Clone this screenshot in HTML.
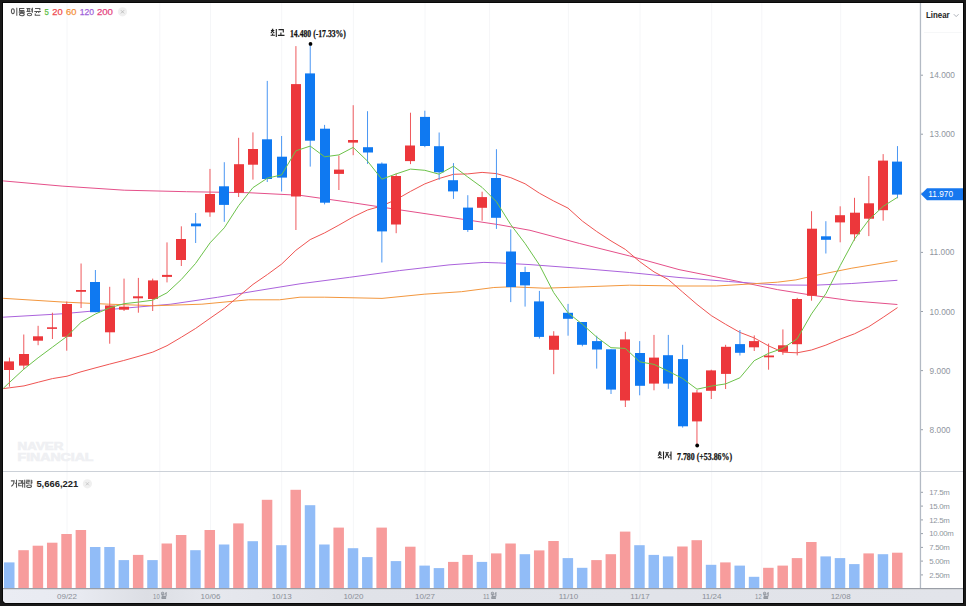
<!DOCTYPE html>
<html><head><meta charset="utf-8"><title>chart</title>
<style>
html,body{margin:0;padding:0;background:#191919;width:966px;height:606px;overflow:hidden;font-family:"Liberation Sans",sans-serif;}
svg{display:block;}
</style></head><body>
<svg width="966" height="606" viewBox="0 0 966 606">
<rect x="0" y="0" width="966" height="606" fill="#191919"/>
<path d="M2,2H964V604H7Q2,604 2,599Z" fill="#070707"/>
<path d="M3,3H963V603H7Q3,603 3,599Z" fill="#fff"/>
<line x1="67" y1="3" x2="67" y2="589" stroke="#f5f6f8" stroke-width="1"/>
<line x1="159.8" y1="3" x2="159.8" y2="589" stroke="#f5f6f8" stroke-width="1"/>
<line x1="210.5" y1="3" x2="210.5" y2="589" stroke="#f5f6f8" stroke-width="1"/>
<line x1="281.7" y1="3" x2="281.7" y2="589" stroke="#f5f6f8" stroke-width="1"/>
<line x1="353.4" y1="3" x2="353.4" y2="589" stroke="#f5f6f8" stroke-width="1"/>
<line x1="425" y1="3" x2="425" y2="589" stroke="#f5f6f8" stroke-width="1"/>
<line x1="489.6" y1="3" x2="489.6" y2="589" stroke="#f5f6f8" stroke-width="1"/>
<line x1="568.4" y1="3" x2="568.4" y2="589" stroke="#f5f6f8" stroke-width="1"/>
<line x1="640" y1="3" x2="640" y2="589" stroke="#f5f6f8" stroke-width="1"/>
<line x1="711.7" y1="3" x2="711.7" y2="589" stroke="#f5f6f8" stroke-width="1"/>
<line x1="761.8" y1="3" x2="761.8" y2="589" stroke="#f5f6f8" stroke-width="1"/>
<line x1="840.7" y1="3" x2="840.7" y2="589" stroke="#f5f6f8" stroke-width="1"/>
<polyline points="3.1,180.9 62.1,186.1 124.2,190.2 186.3,191.7 248.4,192.7 300.0,195.3 349.7,202.3 399.4,209.8 449.0,217.2 498.8,224.7 530.0,230.3 579.7,243.5 629.4,255.9 679.0,269.6 728.8,279.5 777.3,289.6 814.5,295.6 851.8,300.8 897.4,304.5" fill="none" stroke="#e5508a" stroke-width="1" stroke-linejoin="round"/>
<polyline points="3.1,317.2 62.1,313.8 124.2,308.2 170.8,304.2 217.4,297.3 264.0,289.6 300.0,283.8 349.7,277.3 399.4,270.6 449.0,264.9 483.9,262.4 498.8,262.9 530.0,264.6 579.7,268.3 629.4,272.5 679.0,277.5 728.8,281.5 777.3,285.0 814.5,285.2 851.8,283.5 897.4,280.3" fill="none" stroke="#ab63dc" stroke-width="1" stroke-linejoin="round"/>
<polyline points="3.1,298.3 62.1,302.0 108.7,304.2 155.3,305.7 201.9,304.2 248.4,299.8 279.5,299.8 300.0,297.2 324.8,297.2 382.0,298.4 424.2,294.2 461.5,291.7 493.8,287.5 511.2,286.8 544.9,288.2 579.7,287.0 629.4,285.2 679.0,286.0 716.3,286.0 740.0,284.6 777.3,282.2 795.9,279.9 814.5,275.6 851.8,268.2 897.4,260.7" fill="none" stroke="#f3973e" stroke-width="1" stroke-linejoin="round"/>
<polyline points="3.3,388.6 9.5,387.8 24.0,385.9 38.3,382.2 52.4,378.6 67.0,376.2 81.0,371.8 95.0,368.0 109.3,364.2 123.7,360.5 138.0,356.5 152.8,352.1 167.0,345.7 181.4,337.2 195.7,328.4 210.0,318.3 224.4,308.3 238.7,296.3 253.0,284.4 267.4,274.5 281.6,264.1 295.9,250.3 310.2,239.6 324.6,232.9 338.9,225.1 353.2,216.9 367.5,210.0 381.8,205.9 396.2,199.5 410.5,191.4 424.8,183.9 439.1,178.5 453.5,174.3 467.8,173.9 482.1,172.4 496.4,173.6 510.8,177.7 525.1,183.8 539.4,193.2 553.7,201.0 568.0,208.1 582.4,221.1 596.7,231.5 611.0,240.9 625.3,249.4 639.7,261.6 654.0,271.9 668.3,279.5 682.6,292.0 697.0,304.4 711.3,315.6 725.6,324.3 739.9,332.4 754.2,337.9 768.6,345.9 782.9,352.2 797.2,352.8 811.5,350.0 825.9,345.1 840.2,339.1 854.5,333.8 868.8,326.7 883.2,317.3 897.5,307.6" fill="none" stroke="#ef5452" stroke-width="1" stroke-linejoin="round"/>
<rect x="8.95" y="357.6" width="1" height="29.1" fill="#ef5a5e"/>
<rect x="4" y="361.4" width="10" height="8.6" fill="#ec373b"/>
<rect x="23.27" y="334.5" width="1" height="34.8" fill="#ef5a5e"/>
<rect x="19" y="354.0" width="10" height="11.6" fill="#ec373b"/>
<rect x="37.60" y="325.8" width="1" height="19.4" fill="#ef5a5e"/>
<rect x="33" y="336.3" width="10" height="4.4" fill="#ec373b"/>
<rect x="51.92" y="312.7" width="1" height="26.3" fill="#ef5a5e"/>
<rect x="47" y="327.3" width="10" height="1.6" fill="#ec373b"/>
<rect x="66.24" y="301.5" width="1" height="49.2" fill="#ef5a5e"/>
<rect x="62" y="304.0" width="10" height="32.8" fill="#ec373b"/>
<rect x="80.57" y="263.5" width="1" height="44.5" fill="#ef5a5e"/>
<rect x="76" y="290.0" width="10" height="1.8" fill="#ec373b"/>
<rect x="94.89" y="270.0" width="1" height="42.2" fill="#4b97f3"/>
<rect x="90" y="282.0" width="10" height="30.2" fill="#0f79f1"/>
<rect x="109.21" y="286.8" width="1" height="56.9" fill="#ef5a5e"/>
<rect x="105" y="305.5" width="10" height="26.8" fill="#ec373b"/>
<rect x="123.53" y="278.6" width="1" height="32.4" fill="#ef5a5e"/>
<rect x="119" y="306.7" width="10" height="3.0" fill="#ec373b"/>
<rect x="137.86" y="277.9" width="1" height="34.8" fill="#ef5a5e"/>
<rect x="133" y="296.3" width="10" height="2.0" fill="#ec373b"/>
<rect x="152.18" y="278.6" width="1" height="32.4" fill="#ef5a5e"/>
<rect x="148" y="280.4" width="10" height="18.6" fill="#ec373b"/>
<rect x="166.50" y="242.4" width="1" height="40.0" fill="#ef5a5e"/>
<rect x="162" y="274.9" width="10" height="2.0" fill="#ec373b"/>
<rect x="180.83" y="226.3" width="1" height="39.7" fill="#ef5a5e"/>
<rect x="176" y="239.0" width="10" height="21.0" fill="#ec373b"/>
<rect x="195.15" y="213.0" width="1" height="30.0" fill="#4b97f3"/>
<rect x="191" y="223.5" width="10" height="2.8" fill="#0f79f1"/>
<rect x="209.47" y="168.9" width="1" height="47.9" fill="#ef5a5e"/>
<rect x="205" y="194.0" width="10" height="18.4" fill="#ec373b"/>
<rect x="223.79" y="162.2" width="1" height="59.6" fill="#4b97f3"/>
<rect x="219" y="186.3" width="10" height="18.6" fill="#0f79f1"/>
<rect x="238.12" y="137.8" width="1" height="59.2" fill="#ef5a5e"/>
<rect x="234" y="164.2" width="10" height="28.5" fill="#ec373b"/>
<rect x="252.44" y="132.4" width="1" height="47.2" fill="#ef5a5e"/>
<rect x="248" y="149.0" width="10" height="15.7" fill="#ec373b"/>
<rect x="266.76" y="80.9" width="1" height="101.1" fill="#4b97f3"/>
<rect x="262" y="139.3" width="10" height="39.7" fill="#0f79f1"/>
<rect x="281.09" y="136.0" width="1" height="55.5" fill="#4b97f3"/>
<rect x="277" y="156.7" width="10" height="20.9" fill="#0f79f1"/>
<rect x="295.41" y="46.1" width="1" height="183.9" fill="#ef5a5e"/>
<rect x="291" y="84.1" width="10" height="112.4" fill="#ec373b"/>
<rect x="309.73" y="44.8" width="1" height="121.8" fill="#4b97f3"/>
<rect x="305" y="73.4" width="10" height="67.3" fill="#0f79f1"/>
<rect x="324.06" y="124.9" width="1" height="79.5" fill="#4b97f3"/>
<rect x="320" y="128.7" width="10" height="74.0" fill="#0f79f1"/>
<rect x="338.38" y="155.5" width="1" height="34.5" fill="#ef5a5e"/>
<rect x="334" y="169.6" width="10" height="4.3" fill="#ec373b"/>
<rect x="352.70" y="105.2" width="1" height="50.0" fill="#ef5a5e"/>
<rect x="348" y="140.0" width="10" height="2.6" fill="#ec373b"/>
<rect x="367.02" y="111.2" width="1" height="52.7" fill="#4b97f3"/>
<rect x="363" y="147.2" width="10" height="5.3" fill="#0f79f1"/>
<rect x="381.35" y="162.4" width="1" height="100.1" fill="#4b97f3"/>
<rect x="377" y="163.6" width="10" height="67.8" fill="#0f79f1"/>
<rect x="395.67" y="173.5" width="1" height="59.7" fill="#ef5a5e"/>
<rect x="391" y="176.0" width="10" height="48.5" fill="#ec373b"/>
<rect x="409.99" y="112.7" width="1" height="51.4" fill="#ef5a5e"/>
<rect x="405" y="145.5" width="10" height="15.6" fill="#ec373b"/>
<rect x="424.32" y="110.7" width="1" height="36.5" fill="#4b97f3"/>
<rect x="420" y="116.9" width="10" height="29.1" fill="#0f79f1"/>
<rect x="438.64" y="132.5" width="1" height="47.3" fill="#4b97f3"/>
<rect x="434" y="146.2" width="10" height="26.1" fill="#0f79f1"/>
<rect x="452.96" y="163.1" width="1" height="35.8" fill="#4b97f3"/>
<rect x="448" y="180.2" width="10" height="11.2" fill="#0f79f1"/>
<rect x="467.29" y="195.2" width="1" height="36.7" fill="#4b97f3"/>
<rect x="463" y="207.6" width="10" height="22.4" fill="#0f79f1"/>
<rect x="481.61" y="191.7" width="1" height="29.0" fill="#ef5a5e"/>
<rect x="477" y="197.1" width="10" height="10.7" fill="#ec373b"/>
<rect x="495.93" y="149.2" width="1" height="79.7" fill="#4b97f3"/>
<rect x="491" y="178.0" width="10" height="39.8" fill="#0f79f1"/>
<rect x="510.25" y="229.4" width="1" height="72.7" fill="#4b97f3"/>
<rect x="506" y="251.5" width="10" height="35.6" fill="#0f79f1"/>
<rect x="524.58" y="266.7" width="1" height="39.9" fill="#4b97f3"/>
<rect x="520" y="272.0" width="10" height="13.4" fill="#0f79f1"/>
<rect x="538.90" y="290.9" width="1" height="47.7" fill="#4b97f3"/>
<rect x="534" y="301.4" width="10" height="35.5" fill="#0f79f1"/>
<rect x="553.22" y="331.2" width="1" height="43.0" fill="#ef5a5e"/>
<rect x="549" y="335.7" width="10" height="14.1" fill="#ec373b"/>
<rect x="567.55" y="303.9" width="1" height="31.8" fill="#4b97f3"/>
<rect x="563" y="312.8" width="10" height="6.0" fill="#0f79f1"/>
<rect x="581.87" y="322.0" width="1" height="24.3" fill="#4b97f3"/>
<rect x="577" y="322.0" width="10" height="22.8" fill="#0f79f1"/>
<rect x="596.19" y="335.7" width="1" height="32.9" fill="#4b97f3"/>
<rect x="592" y="341.1" width="10" height="8.4" fill="#0f79f1"/>
<rect x="610.52" y="349.3" width="1" height="44.7" fill="#4b97f3"/>
<rect x="606" y="349.3" width="10" height="40.3" fill="#0f79f1"/>
<rect x="624.84" y="331.8" width="1" height="75.2" fill="#ef5a5e"/>
<rect x="620" y="339.4" width="10" height="61.1" fill="#ec373b"/>
<rect x="639.16" y="341.1" width="1" height="54.2" fill="#4b97f3"/>
<rect x="635" y="353.0" width="10" height="32.8" fill="#0f79f1"/>
<rect x="653.49" y="334.9" width="1" height="55.4" fill="#ef5a5e"/>
<rect x="649" y="357.6" width="10" height="26.0" fill="#ec373b"/>
<rect x="667.81" y="334.9" width="1" height="53.9" fill="#4b97f3"/>
<rect x="663" y="355.2" width="10" height="28.4" fill="#0f79f1"/>
<rect x="682.13" y="344.8" width="1" height="82.8" fill="#4b97f3"/>
<rect x="678" y="359.1" width="10" height="67.2" fill="#0f79f1"/>
<rect x="696.45" y="390.0" width="1" height="55.0" fill="#ef5a5e"/>
<rect x="692" y="392.5" width="10" height="28.9" fill="#ec373b"/>
<rect x="710.78" y="369.7" width="1" height="29.3" fill="#ef5a5e"/>
<rect x="706" y="370.4" width="10" height="20.4" fill="#ec373b"/>
<rect x="725.10" y="344.8" width="1" height="44.2" fill="#ef5a5e"/>
<rect x="721" y="346.8" width="10" height="27.1" fill="#ec373b"/>
<rect x="739.42" y="330.0" width="1" height="25.5" fill="#4b97f3"/>
<rect x="735" y="344.1" width="10" height="8.7" fill="#0f79f1"/>
<rect x="753.75" y="335.4" width="1" height="15.6" fill="#ef5a5e"/>
<rect x="749" y="341.1" width="10" height="6.2" fill="#ec373b"/>
<rect x="768.07" y="343.6" width="1" height="26.1" fill="#ef5a5e"/>
<rect x="764" y="355.5" width="10" height="1.8" fill="#ec373b"/>
<rect x="782.39" y="329.4" width="1" height="25.4" fill="#ef5a5e"/>
<rect x="778" y="345.3" width="10" height="6.5" fill="#ec373b"/>
<rect x="796.72" y="297.8" width="1" height="57.6" fill="#ef5a5e"/>
<rect x="792" y="299.0" width="10" height="45.2" fill="#ec373b"/>
<rect x="811.04" y="211.2" width="1" height="89.5" fill="#ef5a5e"/>
<rect x="807" y="228.7" width="10" height="67.1" fill="#ec373b"/>
<rect x="825.36" y="221.2" width="1" height="32.3" fill="#4b97f3"/>
<rect x="821" y="236.3" width="10" height="3.5" fill="#0f79f1"/>
<rect x="839.68" y="206.3" width="1" height="36.0" fill="#ef5a5e"/>
<rect x="835" y="215.2" width="10" height="7.2" fill="#ec373b"/>
<rect x="854.01" y="197.8" width="1" height="42.8" fill="#ef5a5e"/>
<rect x="850" y="212.7" width="10" height="21.6" fill="#ec373b"/>
<rect x="868.33" y="176.0" width="1" height="60.1" fill="#ef5a5e"/>
<rect x="864" y="203.3" width="10" height="15.4" fill="#ec373b"/>
<rect x="882.65" y="154.1" width="1" height="66.6" fill="#ef5a5e"/>
<rect x="878" y="160.6" width="10" height="49.6" fill="#ec373b"/>
<rect x="896.98" y="146.1" width="1" height="52.2" fill="#4b97f3"/>
<rect x="892" y="161.6" width="10" height="33.0" fill="#0f79f1"/>
<polyline points="3.3,388.3 9.4,382.5 23.8,369.2 38.1,357.8 52.4,347.2 66.7,336.6 81.1,322.3 95.4,314.0 109.7,307.8 124.0,303.7 138.4,302.1 152.7,300.2 167.0,292.8 181.3,279.5 195.6,263.4 210.0,242.9 224.3,227.8 238.6,205.7 252.9,187.7 267.3,178.2 281.6,174.9 295.9,150.8 310.2,146.1 324.6,156.8 338.9,154.9 353.2,147.4 367.5,161.1 381.8,179.2 396.2,173.9 410.5,169.1 424.8,170.3 439.1,174.2 453.5,166.2 467.8,177.0 482.1,187.4 496.4,201.7 510.8,224.7 525.1,243.5 539.4,264.9 553.7,292.6 568.0,312.8 582.4,324.3 596.7,337.1 611.0,347.7 625.3,348.4 639.7,361.8 654.0,364.4 668.3,371.2 682.6,378.5 697.0,389.2 711.3,386.1 725.6,383.9 739.9,377.8 754.2,360.7 768.6,353.3 782.9,348.3 797.2,338.7 811.5,313.9 825.9,293.7 840.2,265.6 854.5,239.1 868.8,219.9 883.2,206.3 897.5,197.3" fill="none" stroke="#6cc24a" stroke-width="1" stroke-linejoin="round"/>
<rect x="4.00" y="562.4" width="10.5" height="26.1" fill="#91bcf7"/>
<rect x="18.32" y="550.2" width="10.5" height="38.3" fill="#f79c9c"/>
<rect x="32.65" y="545.7" width="10.5" height="42.8" fill="#f79c9c"/>
<rect x="46.97" y="542.7" width="10.5" height="45.8" fill="#f79c9c"/>
<rect x="61.29" y="534.0" width="10.5" height="54.5" fill="#f79c9c"/>
<rect x="75.62" y="530.0" width="10.5" height="58.5" fill="#f79c9c"/>
<rect x="89.94" y="547.0" width="10.5" height="41.5" fill="#91bcf7"/>
<rect x="104.26" y="547.0" width="10.5" height="41.5" fill="#91bcf7"/>
<rect x="118.58" y="560.1" width="10.5" height="28.4" fill="#91bcf7"/>
<rect x="132.91" y="554.9" width="10.5" height="33.6" fill="#f79c9c"/>
<rect x="147.23" y="560.1" width="10.5" height="28.4" fill="#91bcf7"/>
<rect x="161.55" y="543.5" width="10.5" height="45.0" fill="#f79c9c"/>
<rect x="175.88" y="535.0" width="10.5" height="53.5" fill="#f79c9c"/>
<rect x="190.20" y="550.2" width="10.5" height="38.3" fill="#91bcf7"/>
<rect x="204.52" y="530.0" width="10.5" height="58.5" fill="#f79c9c"/>
<rect x="218.84" y="544.5" width="10.5" height="44.0" fill="#91bcf7"/>
<rect x="233.17" y="523.4" width="10.5" height="65.1" fill="#f79c9c"/>
<rect x="247.49" y="541.2" width="10.5" height="47.3" fill="#91bcf7"/>
<rect x="261.81" y="499.8" width="10.5" height="88.7" fill="#f79c9c"/>
<rect x="276.14" y="545.2" width="10.5" height="43.3" fill="#91bcf7"/>
<rect x="290.46" y="489.8" width="10.5" height="98.7" fill="#f79c9c"/>
<rect x="304.78" y="505.2" width="10.5" height="83.3" fill="#91bcf7"/>
<rect x="319.11" y="544.5" width="10.5" height="44.0" fill="#91bcf7"/>
<rect x="333.43" y="527.6" width="10.5" height="60.9" fill="#f79c9c"/>
<rect x="347.75" y="548.2" width="10.5" height="40.3" fill="#91bcf7"/>
<rect x="362.07" y="557.1" width="10.5" height="31.4" fill="#91bcf7"/>
<rect x="376.40" y="527.6" width="10.5" height="60.9" fill="#f79c9c"/>
<rect x="390.72" y="561.1" width="10.5" height="27.4" fill="#91bcf7"/>
<rect x="405.04" y="546.7" width="10.5" height="41.8" fill="#f79c9c"/>
<rect x="419.37" y="565.6" width="10.5" height="22.9" fill="#91bcf7"/>
<rect x="433.69" y="568.1" width="10.5" height="20.4" fill="#91bcf7"/>
<rect x="448.01" y="561.9" width="10.5" height="26.6" fill="#f79c9c"/>
<rect x="462.34" y="554.9" width="10.5" height="33.6" fill="#f79c9c"/>
<rect x="476.66" y="561.9" width="10.5" height="26.6" fill="#91bcf7"/>
<rect x="490.98" y="553.4" width="10.5" height="35.1" fill="#f79c9c"/>
<rect x="505.31" y="543.5" width="10.5" height="45.0" fill="#f79c9c"/>
<rect x="519.63" y="554.2" width="10.5" height="34.3" fill="#91bcf7"/>
<rect x="533.95" y="550.4" width="10.5" height="38.1" fill="#f79c9c"/>
<rect x="548.27" y="541.0" width="10.5" height="47.5" fill="#f79c9c"/>
<rect x="562.60" y="558.1" width="10.5" height="30.4" fill="#91bcf7"/>
<rect x="576.92" y="567.8" width="10.5" height="20.7" fill="#91bcf7"/>
<rect x="591.24" y="560.1" width="10.5" height="28.4" fill="#f79c9c"/>
<rect x="605.57" y="554.2" width="10.5" height="34.3" fill="#f79c9c"/>
<rect x="619.89" y="531.6" width="10.5" height="56.9" fill="#f79c9c"/>
<rect x="634.21" y="545.2" width="10.5" height="43.3" fill="#91bcf7"/>
<rect x="648.53" y="554.9" width="10.5" height="33.6" fill="#91bcf7"/>
<rect x="662.86" y="556.4" width="10.5" height="32.1" fill="#91bcf7"/>
<rect x="677.18" y="546.5" width="10.5" height="42.0" fill="#f79c9c"/>
<rect x="691.50" y="540.2" width="10.5" height="48.3" fill="#f79c9c"/>
<rect x="705.83" y="564.8" width="10.5" height="23.7" fill="#91bcf7"/>
<rect x="720.15" y="562.4" width="10.5" height="26.1" fill="#f79c9c"/>
<rect x="734.47" y="565.6" width="10.5" height="22.9" fill="#91bcf7"/>
<rect x="748.80" y="576.8" width="10.5" height="11.7" fill="#91bcf7"/>
<rect x="763.12" y="567.8" width="10.5" height="20.7" fill="#f79c9c"/>
<rect x="777.44" y="565.6" width="10.5" height="22.9" fill="#f79c9c"/>
<rect x="791.76" y="558.1" width="10.5" height="30.4" fill="#f79c9c"/>
<rect x="806.09" y="542.0" width="10.5" height="46.5" fill="#f79c9c"/>
<rect x="820.41" y="556.4" width="10.5" height="32.1" fill="#91bcf7"/>
<rect x="834.73" y="558.1" width="10.5" height="30.4" fill="#91bcf7"/>
<rect x="849.06" y="564.1" width="10.5" height="24.4" fill="#91bcf7"/>
<rect x="863.38" y="553.4" width="10.5" height="35.1" fill="#f79c9c"/>
<rect x="877.70" y="554.2" width="10.5" height="34.3" fill="#91bcf7"/>
<rect x="892.03" y="552.7" width="10.5" height="35.8" fill="#f79c9c"/>
<circle cx="310.5" cy="43.9" r="1.9" fill="#000"/>
<g fill="none" stroke="#222" stroke-width="1.10" stroke-linecap="butt"><path transform="translate(270.60,29.00) scale(1.0)" d="M1.3,0.4H2.7 M0.3,1.5H3.7 M2,1.6L0.3,4.2 M2,2.3L3.7,4.2 M2,4.4V5.9 M0,6.3H4.3 M5.7,0V8"/><path transform="translate(277.90,29.00) scale(1.0)" d="M0.6,0.6H5.4V3.6 M3,3.6V6.2 M0,6.4H6.6"/></g>
<text x="290" y="36.8" font-family='"Liberation Serif", serif' font-weight="bold" font-size="10" textLength="55.9" lengthAdjust="spacingAndGlyphs" fill="#111" stroke="#111" stroke-width="0.25">14.480 (-17.33%)</text>
<circle cx="697.2" cy="445.5" r="1.9" fill="#000"/>
<g fill="none" stroke="#222" stroke-width="1.10" stroke-linecap="butt"><path transform="translate(657.80,451.50) scale(1.0)" d="M1.3,0.4H2.7 M0.3,1.5H3.7 M2,1.6L0.3,4.2 M2,2.3L3.7,4.2 M2,4.4V5.9 M0,6.3H4.3 M5.7,0V8"/><path transform="translate(665.10,451.50) scale(1.0)" d="M0.3,1.2H3.8 M2.1,1.3L0.2,6.4 M2.1,2.6L4,6.4 M5.9,0V8.3 M4.3,3.6H5.9"/></g>
<text x="677" y="459.5" font-family='"Liberation Serif", serif' font-weight="bold" font-size="10" textLength="55" lengthAdjust="spacingAndGlyphs" fill="#111" stroke="#111" stroke-width="0.25">7.780 (+53.86%)</text>
<g fill="none" stroke="#555" stroke-width="1.05" stroke-linecap="butt"><path transform="translate(11.00,7.80) scale(1.0)" d="M3.3,3.4a1.45,2.4 0 1,1 -2.9,0a1.45,2.4 0 1,1 2.9,0Z M5.8,0V8"/><path transform="translate(18.75,7.80) scale(1.0)" d="M5.6,0.6H0.8V2.8H5.6 M3.1,2.8V4.1 M0,4.3H6.2 M5.5,6.6a2.4,1.3 0 1,1 -4.8,0a2.4,1.3 0 1,1 4.8,0Z"/><path transform="translate(26.50,7.80) scale(1.0)" d="M0,0.6H3.8 M1.1,0.6V3.6 M2.7,0.6V3.6 M0,3.7H3.9 M5.9,0V5 M4.3,1.4H5.9 M4.3,3.1H5.9 M5.2,6.7a2.2,1.2 0 1,1 -4.4,0a2.2,1.2 0 1,1 4.4,0Z"/><path transform="translate(34.25,7.80) scale(1.0)" d="M0.8,0.6H5.6V2.4 M0,3.6H6.6 M2.2,3.6V5.2 M4.5,3.6V5.2 M1.0,5.8V7.5H6.0"/></g>
<text x="44.4" y="15.1" font-family='"Liberation Sans", sans-serif' font-size="9.4" textLength="4.3" lengthAdjust="spacingAndGlyphs" stroke="#5cbf45" stroke-width="0.25" fill="#5cbf45">5</text>
<text x="52.2" y="15.1" font-family='"Liberation Sans", sans-serif' font-size="9.4" textLength="10.4" lengthAdjust="spacingAndGlyphs" stroke="#ef4a4f" stroke-width="0.25" fill="#ef4a4f">20</text>
<text x="66.0" y="15.1" font-family='"Liberation Sans", sans-serif' font-size="9.4" textLength="10.4" lengthAdjust="spacingAndGlyphs" stroke="#f3913a" stroke-width="0.25" fill="#f3913a">60</text>
<text x="79.7" y="15.1" font-family='"Liberation Sans", sans-serif' font-size="9.4" textLength="14.3" lengthAdjust="spacingAndGlyphs" stroke="#a061d9" stroke-width="0.25" fill="#a061d9">120</text>
<text x="96.9" y="15.1" font-family='"Liberation Sans", sans-serif' font-size="9.4" textLength="16.1" lengthAdjust="spacingAndGlyphs" stroke="#e5457f" stroke-width="0.25" fill="#e5457f">200</text>
<circle cx="122.5" cy="11.8" r="4.6" fill="#f0f0f0"/><path d="M120.9,10.2L124.1,13.4M124.1,10.2L120.9,13.4" stroke="#b5b5b5" stroke-width="0.8"/>
<text x="926" y="17.7" font-family='"Liberation Sans", sans-serif' font-weight="bold" font-size="9" textLength="23.7" lengthAdjust="spacingAndGlyphs" fill="#222">Linear</text>
<path d="M953.8,14.2L956.2,16.6L958.6,14.2" fill="none" stroke="#9aa0a8" stroke-width="0.8"/>
<line x1="924" y1="32.5" x2="962" y2="32.5" stroke="#f6f7f8" stroke-width="1"/>
<rect x="919.8" y="3" width="1.3" height="586" fill="#b3bac4"/>
<rect x="921" y="74.7" width="2" height="1" fill="#9aa1ab"/>
<text x="929.6" y="78.2" font-family='"Liberation Sans", sans-serif' font-size="8.3" fill="#8f959e">14.000</text>
<rect x="921" y="133.7" width="2" height="1" fill="#9aa1ab"/>
<text x="929.6" y="137.2" font-family='"Liberation Sans", sans-serif' font-size="8.3" fill="#8f959e">13.000</text>
<rect x="921" y="251.9" width="2" height="1" fill="#9aa1ab"/>
<text x="929.6" y="255.4" font-family='"Liberation Sans", sans-serif' font-size="8.3" fill="#8f959e">11.000</text>
<rect x="921" y="311.0" width="2" height="1" fill="#9aa1ab"/>
<text x="929.6" y="314.5" font-family='"Liberation Sans", sans-serif' font-size="8.3" fill="#8f959e">10.000</text>
<rect x="921" y="370.1" width="2" height="1" fill="#9aa1ab"/>
<text x="929.6" y="373.6" font-family='"Liberation Sans", sans-serif' font-size="8.3" fill="#8f959e">9.000</text>
<rect x="921" y="429.2" width="2" height="1" fill="#9aa1ab"/>
<text x="929.6" y="432.7" font-family='"Liberation Sans", sans-serif' font-size="8.3" fill="#8f959e">8.000</text>
<rect x="921" y="192.7" width="2" height="1" fill="#9aa1ab"/>
<path d="M921,194.3L927,188.3H963V200.3H927Z" fill="#1677ef"/>
<text x="928.3" y="197.3" font-family='"Liberation Sans", sans-serif' font-size="8.3" fill="#fff">11.970</text>
<text x="17.6" y="449.8" font-family='"Liberation Sans", sans-serif' font-weight="bold" font-size="11.6" textLength="45.8" lengthAdjust="spacingAndGlyphs" fill="#eff0f3" stroke="#eff0f3" stroke-width="0.7">NAVER</text>
<text x="17.6" y="460.6" font-family='"Liberation Sans", sans-serif' font-weight="bold" font-size="11.6" textLength="75.8" lengthAdjust="spacingAndGlyphs" fill="#eff0f3" stroke="#eff0f3" stroke-width="0.7">FINANCIAL</text>
<rect x="3" y="471" width="960" height="1" fill="#ccd1d8"/>
<g fill="none" stroke="#555" stroke-width="1.05" stroke-linecap="butt"><path transform="translate(10.70,479.80) scale(1.0)" d="M0.2,1.1H3.4Q3.4,4.6 0.6,6.6 M5.8,0V8 M4.2,3.5H5.8"/><path transform="translate(18.30,479.80) scale(1.0)" d="M0.2,1H3.1V3.4H0.4V5.9H3.4 M4.3,0.3V7.6 M4.3,3.5H6.2 M6.4,0V8"/><path transform="translate(25.90,479.80) scale(1.0)" d="M0.2,0.5H3.3V1.9H0.5V3.4H3.6 M5.3,0V4.7 M5.3,1.3H6.7 M5.3,2.9H6.7 M5.6,6.5a2.4,1.25 0 1,1 -4.8,0a2.4,1.25 0 1,1 4.8,0Z"/></g>
<text x="36.4" y="487.2" font-family='"Liberation Sans", sans-serif' font-weight="bold" font-size="8.8" textLength="41.8" lengthAdjust="spacingAndGlyphs" fill="#222">5,666,221</text>
<circle cx="87.4" cy="483.8" r="4.6" fill="#f0f0f0"/><path d="M85.9,482.3L88.9,485.3M88.9,482.3L85.9,485.3" stroke="#c0c0c0" stroke-width="0.8"/>
<rect x="921" y="491.8" width="2" height="1" fill="#9aa1ab"/>
<text x="929.3" y="495.1" font-family='"Liberation Sans", sans-serif' font-size="7.8" letter-spacing="-0.3" fill="#8f959e">17.5m</text>
<rect x="921" y="505.6" width="2" height="1" fill="#9aa1ab"/>
<text x="929.3" y="508.9" font-family='"Liberation Sans", sans-serif' font-size="7.8" letter-spacing="-0.3" fill="#8f959e">15.0m</text>
<rect x="921" y="519.4" width="2" height="1" fill="#9aa1ab"/>
<text x="929.3" y="522.7" font-family='"Liberation Sans", sans-serif' font-size="7.8" letter-spacing="-0.3" fill="#8f959e">12.5m</text>
<rect x="921" y="533.1" width="2" height="1" fill="#9aa1ab"/>
<text x="929.3" y="536.4" font-family='"Liberation Sans", sans-serif' font-size="7.8" letter-spacing="-0.3" fill="#8f959e">10.00m</text>
<rect x="921" y="546.9" width="2" height="1" fill="#9aa1ab"/>
<text x="929.3" y="550.2" font-family='"Liberation Sans", sans-serif' font-size="7.8" letter-spacing="-0.3" fill="#8f959e">7.50m</text>
<rect x="921" y="560.6" width="2" height="1" fill="#9aa1ab"/>
<text x="929.3" y="563.9" font-family='"Liberation Sans", sans-serif' font-size="7.8" letter-spacing="-0.3" fill="#8f959e">5.00m</text>
<rect x="921" y="574.4" width="2" height="1" fill="#9aa1ab"/>
<text x="929.3" y="577.7" font-family='"Liberation Sans", sans-serif' font-size="7.8" letter-spacing="-0.3" fill="#8f959e">2.50m</text>
<defs><linearGradient id="bg" x1="0" y1="0" x2="1" y2="0"><stop offset="0" stop-color="#eaecf3"/><stop offset="0.08" stop-color="#e8eaf1"/><stop offset="0.15" stop-color="#dcdee4"/><stop offset="0.22" stop-color="#e6e8ee"/><stop offset="0.35" stop-color="#e0e2e8"/><stop offset="1" stop-color="#e2e4ea"/></linearGradient></defs>
<path d="M3,589.5H963V603H7.5Q3,603 3,598.5Z" fill="url(#bg)"/>
<rect x="3" y="588" width="960" height="1.3" fill="#9a9ea6"/>
<text x="67.0" y="598.8" text-anchor="middle" font-family='"Liberation Sans", sans-serif' font-size="8" fill="#8a8f98">09/22</text>
<text x="210.5" y="598.8" text-anchor="middle" font-family='"Liberation Sans", sans-serif' font-size="8" fill="#8a8f98">10/06</text>
<text x="281.7" y="598.8" text-anchor="middle" font-family='"Liberation Sans", sans-serif' font-size="8" fill="#8a8f98">10/13</text>
<text x="353.4" y="598.8" text-anchor="middle" font-family='"Liberation Sans", sans-serif' font-size="8" fill="#8a8f98">10/20</text>
<text x="425.0" y="598.8" text-anchor="middle" font-family='"Liberation Sans", sans-serif' font-size="8" fill="#8a8f98">10/27</text>
<text x="568.4" y="598.8" text-anchor="middle" font-family='"Liberation Sans", sans-serif' font-size="8" fill="#8a8f98">11/10</text>
<text x="640.0" y="598.8" text-anchor="middle" font-family='"Liberation Sans", sans-serif' font-size="8" fill="#8a8f98">11/17</text>
<text x="711.7" y="598.8" text-anchor="middle" font-family='"Liberation Sans", sans-serif' font-size="8" fill="#8a8f98">11/24</text>
<text x="840.7" y="598.8" text-anchor="middle" font-family='"Liberation Sans", sans-serif' font-size="8" fill="#8a8f98">12/08</text>
<text x="153.1" y="598.7" font-family='"Liberation Sans", sans-serif' font-size="8" textLength="6.6" lengthAdjust="spacingAndGlyphs" fill="#8a8f98">10</text>
<g fill="none" stroke="#8a8f98" stroke-width="1.12" stroke-linecap="butt"><path transform="translate(161.10,592.00) scale(0.85)" d="M3.3,1.3a1.5,1.0 0 1,1 -3,0a1.5,1.0 0 1,1 3,0Z M0,3.2H4 M2,3.2V4.5 M5.9,0V4.9 M4.4,2.1H5.9 M0.8,5.2H5.6V6.3H0.8V7.6H5.9"/></g>
<text x="482.9" y="598.7" font-family='"Liberation Sans", sans-serif' font-size="8" textLength="6.6" lengthAdjust="spacingAndGlyphs" fill="#8a8f98">11</text>
<g fill="none" stroke="#8a8f98" stroke-width="1.12" stroke-linecap="butt"><path transform="translate(490.90,592.00) scale(0.85)" d="M3.3,1.3a1.5,1.0 0 1,1 -3,0a1.5,1.0 0 1,1 3,0Z M0,3.2H4 M2,3.2V4.5 M5.9,0V4.9 M4.4,2.1H5.9 M0.8,5.2H5.6V6.3H0.8V7.6H5.9"/></g>
<text x="755.1" y="598.7" font-family='"Liberation Sans", sans-serif' font-size="8" textLength="6.6" lengthAdjust="spacingAndGlyphs" fill="#8a8f98">12</text>
<g fill="none" stroke="#8a8f98" stroke-width="1.12" stroke-linecap="butt"><path transform="translate(763.10,592.00) scale(0.85)" d="M3.3,1.3a1.5,1.0 0 1,1 -3,0a1.5,1.0 0 1,1 3,0Z M0,3.2H4 M2,3.2V4.5 M5.9,0V4.9 M4.4,2.1H5.9 M0.8,5.2H5.6V6.3H0.8V7.6H5.9"/></g>
</svg>
</body></html>
